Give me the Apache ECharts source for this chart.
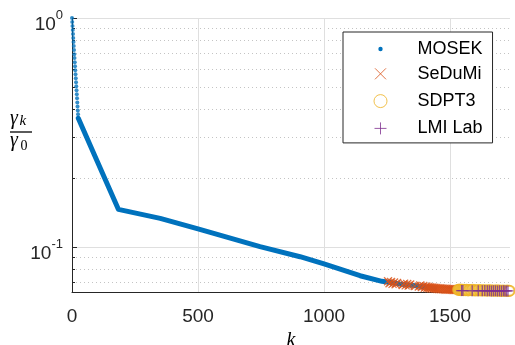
<!DOCTYPE html>
<html>
<head>
<meta charset="utf-8">
<script src="https://cdn.jsdelivr.net/npm/echarts@6/dist/echarts.min.js"></script>
<style>html,body{margin:0;padding:0;background:#fff}#c{width:515px;height:345px}</style>
</head>
<body>
<div id="c"></div>
<script>
// ---- data ----
const kDots = [0,1,2,3,4,5,6,7,8,9,10,11,12,13,14,15,16,17,18,19,20,21,22,23,24,25];
const gammaDots = [1.000,0.960,0.922,0.886,0.851,0.817,0.785,0.754,0.724,0.695,0.668,0.641,0.616,0.592,0.568,0.546,0.524,0.503,0.484,0.464,0.446,0.428,0.411,0.395,0.380,0.365];
const kMosek = [25,100,184,190,350,500,746,905,1000,1143,1230,1300,1360,1400,1440];
const gammaMosek = [0.365,0.237,0.146,0.1455,0.1334,0.1200,0.1003,0.0907,0.0843,0.0749,0.0708,0.0690,0.0678,0.0669,0.0659];
const kSeDuMi = [1254,1260,1266,1272,1278,1284,1290,1312,1318,1324,1330,1336,1342,1360,1376,1382,1388,1394,1400,1406,1410,1414,1418,1422,1426,1430,1434,1438,1442,1446,1450,1454,1458,1462,1466,1470,1474,1478,1482,1486,1490,1494,1498,1502,1506,1510,1514,1518,1522,1526,1530,1534];
const gammaSeDuMi = [0.0708,0.0695,0.0703,0.0690,0.0700,0.0688,0.0697,0.0682,0.0692,0.0680,0.0689,0.0678,0.0686,0.0676,0.0672,0.0680,0.0668,0.0675,0.0664,0.0672,0.0663,0.0669,0.0661,0.0667,0.0659,0.0666,0.0658,0.0664,0.0657,0.0663,0.0655,0.0661,0.0654,0.0660,0.0653,0.0659,0.0652,0.0658,0.0651,0.0657,0.0651,0.0656,0.0650,0.0655,0.0650,0.0655,0.0649,0.0654,0.0649,0.0653,0.0649,0.0652];
const kSDPT3 = [1532,1536,1540,1544,1548,1552,1556,1560,1566,1572,1578,1584,1590,1596,1602,1608,1614,1620,1626,1632,1638,1644,1650,1656,1662,1668,1674,1680,1686,1692,1698,1704,1710,1716,1722,1728,1733,1736];
const gammaSDPT3 = [0.0651,0.0649,0.0652,0.0648,0.0650,0.0647,0.0651,0.0648,0.0650,0.0646,0.0649,0.0647,0.0650,0.0646,0.0648,0.0645,0.0649,0.0646,0.0648,0.0645,0.0647,0.0644,0.0648,0.0645,0.0647,0.0644,0.0646,0.0644,0.0647,0.0644,0.0646,0.0643,0.0645,0.0644,0.0644,0.0645,0.0643,0.0644];
const kLMI = [1546,1551,1588,1612,1628,1638,1648,1656,1664,1672,1680,1688,1696,1704,1712,1718,1724,1730];
const gammaLMI = [0.0645,0.0645,0.0644,0.0644,0.0644,0.0645,0.0644,0.0644,0.0643,0.0644,0.0644,0.0643,0.0644,0.0643,0.0644,0.0643,0.0643,0.0643];
const xTicks = [500,1000,1500];
const yMinor = [0.07,0.08,0.09,0.2,0.3,0.4,0.5,0.6,0.7,0.8,0.9];
const xMax = 1738, yMin = 0.0636, yMax = 1;

const zip = (a, b) => a.map((v, i) => [v, b[i]]);
const C = {mosek:'#0072BD', sedumi:'#D95319', sdpt3:'#EDB120', lmi:'#7E2F8E', axis:'#262626'};

const grid = [];
yMinor.forEach(v => grid.push([{coord:[0, v], lineStyle:{type:[1,3], color:'#c4c4c4', width:1}}, {coord:[xMax, v]}]));
xTicks.forEach(v => grid.push([{coord:[v, yMin], lineStyle:{type:'solid', color:'#dfdfdf', width:1}}, {coord:[v, yMax]}]));
yMinor.forEach(v => grid.push([{coord:[0, v], lineStyle:{type:'solid', color:C.axis, width:1}}, {coord:[12, v]}]));

const xPath = 'path://M0,0L10,10M10,0L0,10';
const plusPath = 'path://M5,0L5,10M0,5L10,5';

const chart = echarts.init(document.getElementById('c'), null, {renderer:'canvas'});
chart.setOption({
  animation: false,
  backgroundColor: '#fff',
  grid: {left: 72, right: 5, top: 18, bottom: 53, containLabel: false, outerBoundsMode: 'none'},
  xAxis: {
    type: 'value', min: 0, max: xMax, interval: 500,
    name: 'k', nameLocation: 'middle', nameGap: 39,
    nameTextStyle: {fontFamily: 'Liberation Serif', fontStyle: 'italic', fontSize: 20, color: '#000'},
    axisLine: {show: true, lineStyle: {color: C.axis, width: 1}},
    axisTick: {show: true, inside: true, length: 4, lineStyle: {color: C.axis}},
    axisLabel: {fontSize: 19, color: C.axis, fontFamily: 'Liberation Sans', margin: 15, showMaxLabel: false,
      formatter: function (v) { return String(v); }},
    splitLine: {show: false}
  },
  yAxis: {
    type: 'log', logBase: 10, min: yMin, max: yMax,
    axisLine: {show: true, lineStyle: {color: C.axis, width: 1}},
    axisTick: {show: true, inside: true, length: 5, lineStyle: {color: C.axis}},
    axisLabel: {
      showMinLabel: false, margin: 9, color: C.axis, fontFamily: 'Liberation Sans', padding: [7, 0, 0, 0],
      formatter: function (v) {
        if (Math.abs(v - 1) < 1e-9) return '{b|10}{s|0}';
        if (Math.abs(v - 0.1) < 1e-9) return '{b|10}{s|-1}';
        return '';
      },
      rich: {
        b: {fontSize: 19, color: C.axis, fontFamily: 'Liberation Sans', lineHeight: 26, verticalAlign: 'bottom'},
        s: {fontSize: 13, color: C.axis, fontFamily: 'Liberation Sans', lineHeight: 20, verticalAlign: 'top'}
      }
    },
    splitLine: {show: true, lineStyle: {color: '#dfdfdf', width: 1}}
  },
  legend: {
    orient: 'vertical', left: 343, top: 32, padding: [7, 10, 2, 25],
    itemWidth: 64, itemHeight: 20, itemGap: 2.3,
    backgroundColor: '#fff', borderColor: '#262626', borderWidth: 1, borderRadius: 0,
    selectedMode: false,
    textStyle: {fontSize: 18, lineHeight: 20, color: '#000', fontFamily: 'Liberation Sans'},
    data: [
      {name: 'MOSEK', icon: 'path://M0,0M20,20M7.8,10A2.2,2.2,0,1,1,12.2,10A2.2,2.2,0,1,1,7.8,10Z', itemStyle: {color: C.mosek, borderWidth: 0}},
      {name: 'SeDuMi', icon: 'path://M0,0M20,20M4.5,4.5L15.5,15.5M15.5,4.5L4.5,15.5', itemStyle: {color: 'none', borderColor: C.sedumi, borderWidth: 1}},
      {name: 'SDPT3', icon: 'path://M0,0M20,20M3.5,10A6.5,6.5,0,1,1,16.5,10A6.5,6.5,0,1,1,3.5,10Z', itemStyle: {color: 'none', borderColor: C.sdpt3, borderWidth: 1}},
      {name: 'LMI Lab', icon: 'path://M0,0M20,20M10,4L10,16M4,10L16,10', itemStyle: {color: 'none', borderColor: C.lmi, borderWidth: 1}}
    ]
  },
  graphic: [
    {type: 'text', left: 10, top: 109, style: {text: 'γ', font: 'italic 20px "Liberation Serif"', fill: '#000'}},
    {type: 'text', left: 19.5, top: 114, style: {text: 'k', font: 'italic 15px "Liberation Serif"', fill: '#000'}},
    {type: 'line', shape: {x1: 10, y1: 132, x2: 32, y2: 132}, style: {stroke: '#000', lineWidth: 1.3}},
    {type: 'text', left: 10, top: 131, style: {text: 'γ', font: 'italic 20px "Liberation Serif"', fill: '#000'}},
    {type: 'text', left: 20.5, top: 139, style: {text: '0', font: '14px "Liberation Serif"', fill: '#000'}}
  ],
  series: [
    {
      name: 'MOSEK', type: 'line', data: zip(kMosek, gammaMosek), showSymbol: false, symbol: 'none',
      lineStyle: {color: C.mosek, width: 5, cap: 'round', join: 'round'}, itemStyle: {color: C.mosek},
      z: 3, silent: true,
      markLine: {silent: true, z: 1, symbol: ['none', 'none'], label: {show: false}, animation: false, emphasis: {disabled: true}, data: grid}
    },
    {
      name: 'MOSEK', type: 'scatter', data: zip(kDots, gammaDots), symbol: 'circle', symbolSize: 4,
      itemStyle: {color: C.mosek}, clip: false, z: 3, silent: true
    },
    {
      name: 'SeDuMi', type: 'scatter', data: zip(kSeDuMi, gammaSeDuMi), symbol: xPath, symbolSize: 8,
      itemStyle: {color: 'rgba(0,0,0,0)', borderColor: C.sedumi, borderWidth: 1.3}, clip: false, z: 4, silent: true
    },
    {
      name: 'SDPT3', type: 'scatter', data: zip(kSDPT3, gammaSDPT3), symbol: 'emptyCircle', symbolSize: 10,
      itemStyle: {color: C.sdpt3, borderColor: C.sdpt3, borderWidth: 1.5}, clip: false, z: 5, silent: true
    },
    {
      name: 'LMI Lab', type: 'scatter', data: zip(kLMI, gammaLMI), symbol: plusPath, symbolSize: 11,
      itemStyle: {color: 'rgba(0,0,0,0)', borderColor: C.lmi, borderWidth: 1.3}, clip: false, z: 6, silent: true
    }
  ]
});
</script>
</body>
</html>
